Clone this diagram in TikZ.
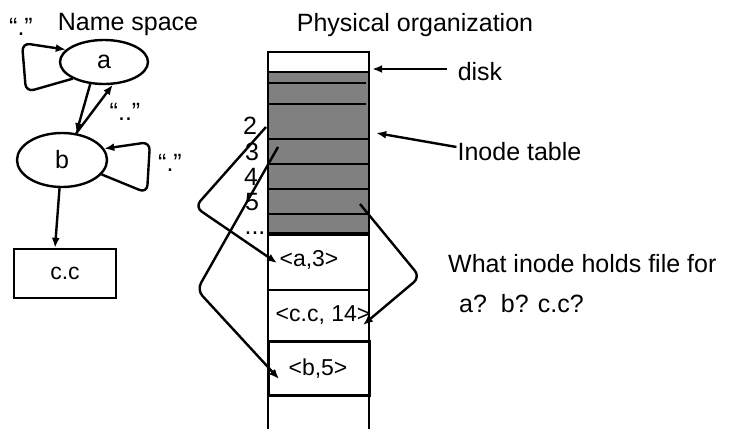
\documentclass[tikz,border=0pt]{standalone}
\usepackage{fontspec}
\setmainfont{Liberation Sans}
\usetikzlibrary{arrows.meta,shapes.geometric}
\begin{document}
\begin{tikzpicture}[x=1pt,y=-1pt,line width=2.4pt,
  arr/.style={-{Latex[length=10pt,width=8pt]}},
  big/.style={font=\fontsize{25}{29}\selectfont,inner sep=0pt},
  mid/.style={font=\fontsize{23}{27}\selectfont,inner sep=0pt},
  ell/.style={ellipse,draw,inner sep=0pt,font=\fontsize{25}{29}\selectfont},
  cell/.style={rectangle,draw,inner sep=0pt,minimum width=101pt},
  loop/.style={arr,rounded corners=8pt}]
\useasboundingbox (0,0) rectangle (742,429);
% ---- Name space ----
\node[big] (nstitle) at (128,24) {Name space};
\node[ell,minimum width=88pt,minimum height=44pt] (a) at (104,62) {a};
\node[ell,minimum width=90pt,minimum height=54pt] (b) at (62,160) {b};
\node[rectangle,draw,minimum width=102pt,minimum height=49pt,font=\fontsize{23}{27}\selectfont] (cc) at (65,273.5) {c.c};
\node[big] (qa) at (21,27) {“.”};
\node[big] (qab) at (125,112) {“..”};
\node[big] (qb) at (170,163) {“.”};
\draw[loop] (a.208) -- (26,92) -- (22,43) -- (a.162);
\draw[loop] (b.-20) -- (147,193) -- (150,142) -- (b.15);
\draw[arr] (a.238) -- (b.62);
\draw[arr] (b.62) -- (a.-69);
\draw[arr] (b.265) -- ([xshift=-10pt]cc.north);
% ---- Physical organization ----
\node[big] (potitle) at (415,25) {Physical organization};
\node[rectangle,draw,minimum width=101pt,minimum height=20pt,inner sep=0pt] (dtop) at (318.5,62) {};
\node[rectangle,draw,fill=gray,minimum width=101pt,minimum height=162pt,inner sep=0pt] (itab) at (318.5,153) {};
\draw (268,83) -- (366,83);
\draw (268,104) -- (366,104);
\draw (268,139) -- (369,139);
\draw (268,164) -- (369,164);
\draw (268,189) -- (369,189);
\draw (268,214) -- (369,214);
\draw[line width=3.4pt] (268,234) -- (369,234);
\node[cell,minimum height=56pt] (c1) at (318.5,262) {};
\node[cell,minimum height=51pt] (c2) at (318.5,315.5) {};
\node[cell,line width=3pt,minimum height=54pt] (c3) at (318.5,368) {};
\draw (268,395) -- (268,429);
\draw (369,395) -- (369,429);
\node[mid] (t1) at (309,260) {<a,3>};
\node[mid] (t2) at (323,315) {<c.c, 14>};
\node[mid] (t3) at (318,369) {<b,5>};
\node[big] (n2) at (250,126) {2};
\node[big] (n3) at (252,152) {3};
\node[big] (n4) at (251,177) {4};
\node[big] (n5) at (252,202) {5};
\node[big] (ndots) at (255,233) {...};
\coordinate (s2) at (266,127);
\coordinate (s3) at (278,147);
\coordinate (s5) at (360,204);
\coordinate (e2) at (277,263);
\coordinate (e3) at (279,379);
\coordinate (e5) at (363,325);
\draw[loop] (s2) -- (195,207) -- (e2);
\draw[loop] (s3) -- (197,290) -- (e3);
\draw[loop] (s5) -- (420,277) -- (e5);
\node[big] (disk) at (480,72) {disk};
\node[big] (itlab) at (519.5,152) {Inode table};
\path (disk.west) ++(-10,-3) coordinate (dk);
\draw[arr] (dk) -- ([xshift=2pt,yshift=-7pt]dtop.east);
\draw[arr] ([yshift=5pt]itlab.west) -- ([xshift=6pt,yshift=20pt]itab.east);
\node[big,anchor=west] (q1) at (447,264) {What inode holds file for};
\node[big,anchor=west] (q2) at (458,304) {a?\ \ b? c.c?};
\end{tikzpicture}
\end{document}
